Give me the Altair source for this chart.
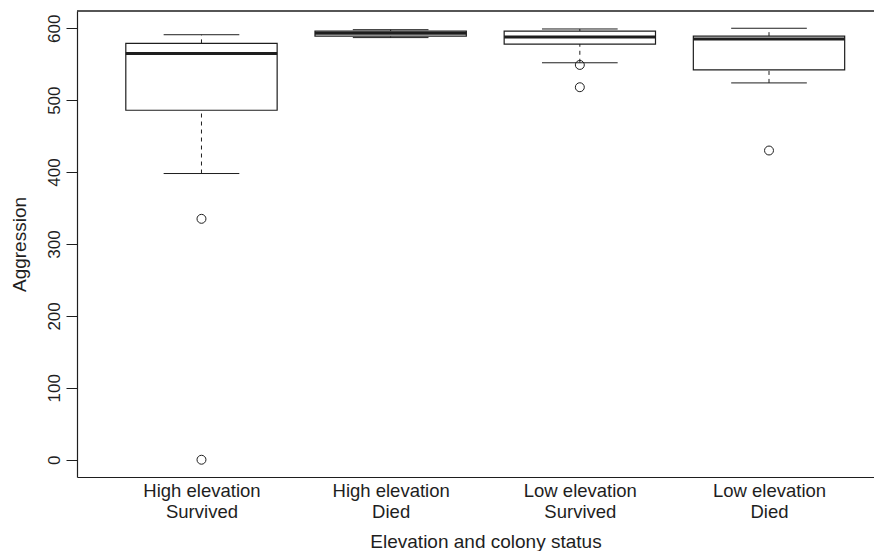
import altair as alt
import pandas as pd

# ---- data ----
positions = [1, 2, 3, 4]
group_labels = [
    ["High elevation", "Survived"],
    ["High elevation", "Died"],
    ["Low elevation", "Survived"],
    ["Low elevation", "Died"],
]
lower_whisker = [398, 587, 552, 524]
q1 = [486, 589, 578, 542]
median = [565, 593, 588, 585]
q3 = [579, 596, 596, 589]
upper_whisker = [591, 598, 599, 600]

outlier_pos = [1, 1, 3, 3, 4]
outlier_val = [335, 0, 549, 518, 430]

y_ticks = [0, 100, 200, 300, 400, 500, 600]

boxes = pd.DataFrame({
    "pos": positions,
    "lo": lower_whisker,
    "q1": q1,
    "med": median,
    "q3": q3,
    "hi": upper_whisker,
})
outliers = pd.DataFrame({"pos": outlier_pos, "val": outlier_val})

INK = "#1e1e1e"
FONT = "Liberation Sans"
W, H = 797, 466

label_expr = " : ".join(
    f"datum.value == {p} ? {repr(lab)}" for p, lab in zip(positions, group_labels)
) + " : ''"

x_scale = alt.Scale(domain=[0.342, 4.555], nice=False, zero=False)
y_scale = alt.Scale(domain=[-24, 624], nice=False, zero=False)

x_axis = alt.Axis(
    values=positions, labelExpr=label_expr, ticks=False, tickSize=0,
    grid=False, domain=True, domainColor=INK, domainWidth=1.2,
    labelFont=FONT, labelFontSize=18.5,
    labelColor=INK, labelPadding=19, labelBaseline="alphabetic", labelLineHeight=21,
    labelAlign="center", title="Elevation and colony status", titleFont=FONT,
    titleFontSize=19, titleFontWeight="normal", titleColor=INK,
    titleBaseline="alphabetic", titleY=70.5, titleX=408.5,
)
y_axis = alt.Axis(
    values=y_ticks, grid=False, domain=True, domainColor=INK, domainWidth=1.2,
    tickColor=INK, tickSize=11, labelAngle=270, labelAlign="center",
    labelBaseline="alphabetic", labelPadding=6.7, labelFont=FONT,
    labelFontSize=17, labelColor=INK,
    title="Aggression", titleFont=FONT, titleFontSize=19, titleFontWeight="normal",
    titleColor=INK, titleAngle=270, titleAlign="center", titleBaseline="alphabetic",
    titleX=-52, titleY=233,
)

base = alt.Chart(boxes).transform_calculate(
    bl="datum.pos - 0.4", br="datum.pos + 0.4",
    cl="datum.pos - 0.2", cr="datum.pos + 0.2",
)

whisk_up = base.mark_rule(color=INK, strokeWidth=1, strokeDash=[4, 4]).encode(
    x=alt.X("pos:Q", scale=x_scale, axis=x_axis),
    y=alt.Y("q3:Q", scale=y_scale, axis=y_axis),
    y2="hi:Q",
)
whisk_lo = base.mark_rule(color=INK, strokeWidth=1, strokeDash=[4, 4]).encode(
    x=alt.X("pos:Q", scale=x_scale),
    y=alt.Y("lo:Q", scale=y_scale),
    y2="q1:Q",
)
box = base.mark_rect(fill="white", stroke=INK, strokeWidth=1.2).encode(
    x=alt.X("bl:Q", scale=x_scale),
    x2="br:Q",
    y=alt.Y("q1:Q", scale=y_scale),
    y2="q3:Q",
)
med = base.mark_rule(color=INK, strokeWidth=3).encode(
    x=alt.X("bl:Q", scale=x_scale),
    x2="br:Q",
    y=alt.Y("med:Q", scale=y_scale),
)
cap_hi = base.mark_rule(color=INK, strokeWidth=1).encode(
    x=alt.X("cl:Q", scale=x_scale),
    x2="cr:Q",
    y=alt.Y("hi:Q", scale=y_scale),
)
cap_lo = base.mark_rule(color=INK, strokeWidth=1).encode(
    x=alt.X("cl:Q", scale=x_scale),
    x2="cr:Q",
    y=alt.Y("lo:Q", scale=y_scale),
)
pts = alt.Chart(outliers).mark_point(
    shape="circle", filled=False, color=INK, size=80, strokeWidth=1, opacity=1
).encode(
    x=alt.X("pos:Q", scale=x_scale),
    y=alt.Y("val:Q", scale=y_scale),
)
top_border = alt.Chart(pd.DataFrame({"k": [0]})).mark_rule(
    color=INK, strokeWidth=1.4
).encode(x=alt.value(0), x2=alt.value(W), y=alt.value(0))

chart = alt.layer(whisk_up, whisk_lo, box, med, cap_hi, cap_lo, pts, top_border).properties(
    width=W, height=H,
    autosize=alt.AutoSizeParams(type="none"),
    padding={"left": 69, "top": 3, "right": 0, "bottom": 74},
    background="white",
).configure_view(stroke=None)

chart.save("out.html", embed_options={"renderer": "svg", "actions": False})
